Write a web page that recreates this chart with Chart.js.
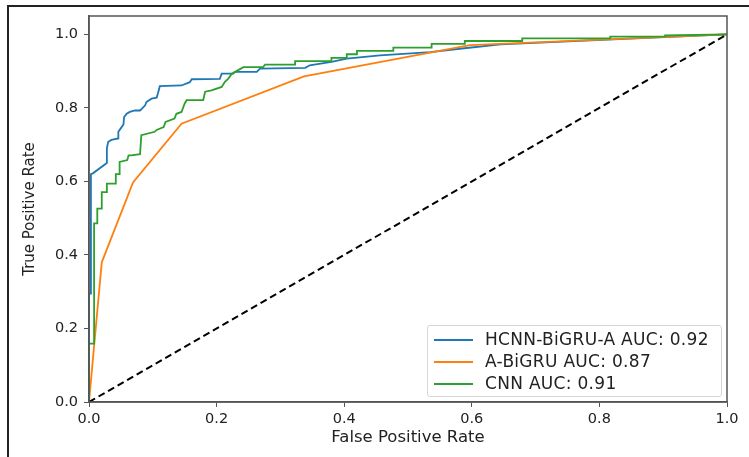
<!DOCTYPE html>
<html lang="en">
<head>
    <meta charset="UTF-8">
    <title>ROC curves</title>
    <style>
        body {
            margin: 0;
            background: #fff;
            font-family: "DejaVu Sans", sans-serif;
        }
        #wrap {
            position: relative;
            width: 749px;
            height: 457px;
            overflow: hidden;
        }
        /* frame of the screenshot */
        #frame {
            position: absolute;
            left: 7px;
            top: 5px;
            width: 760px;
            height: 470px;
            border-top: 2px solid #222;
            border-left: 2px solid #222;
        }
        #rocChart {
            position: absolute;
            left: 0;
            top: 0;
        }
        #legend {
            position: absolute;
            left: 427px;
            top: 325px;
            width: 293px;
            height: 70px;
            border: 1px solid #d6d6d6;
            border-radius: 3px;
            background: rgba(255, 255, 255, 0.8);
            font-size: 17px;
            letter-spacing: 0.3px;
            color: #222;
        }
        .item {
            position: absolute;
            left: 6px;
            height: 20px;
            line-height: 20px;
            white-space: nowrap;
        }
        .swatch {
            display: inline-block;
            width: 39px;
            height: 0;
            border-top: 2px solid;
            vertical-align: middle;
            margin-right: 12px;
        }
    </style>
</head>
<body>
<div id="wrap">
    <div id="frame"></div>
    <canvas id="rocChart" width="749" height="457"></canvas>
    <div id="legend"></div>
</div>

<script src="https://cdn.jsdelivr.net/npm/chart.js"></script>
<script>
    // curve names and colours
    const names = ['HCNN-BiGRU-A AUC: 0.92', 'A-BiGRU AUC: 0.87', 'CNN AUC: 0.91'];
    const colors = ['#1f77b4', '#ff7f0e', '#2ca02c'];

    // HCNN-BiGRU-A
    const hcnnFpr = [0, 0, 0.003, 0.003, 0.006, 0.028, 0.028, 0.030, 0.035, 0.046, 0.046, 0.050, 0.054, 0.055,
        0.059, 0.064, 0.072, 0.080, 0.083, 0.088, 0.090, 0.098, 0.106, 0.108, 0.111, 0.145, 0.158, 0.161,
        0.205, 0.208, 0.226, 0.229, 0.263, 0.268, 0.339, 0.346, 0.380, 0.404, 0.456, 0.535, 0.592, 0.645, 1.0];
    const hcnnTpr = [0, 0.295, 0.295, 0.620, 0.622, 0.650, 0.690, 0.707, 0.713, 0.717, 0.735, 0.745, 0.755, 0.775,
        0.784, 0.789, 0.793, 0.793, 0.798, 0.807, 0.816, 0.825, 0.828, 0.839, 0.859, 0.861, 0.870, 0.878,
        0.879, 0.893, 0.893, 0.898, 0.898, 0.907, 0.909, 0.916, 0.925, 0.934, 0.943, 0.952, 0.963, 0.973, 1.0];

    // A-BiGRU
    const bigruFpr = [0, 0.020, 0.069, 0.145, 0.337, 0.597, 1.0];
    const bigruTpr = [0, 0.380, 0.597, 0.757, 0.886, 0.971, 1.0];

    // CNN
    const cnnFpr = [0, 0, 0.008, 0.008, 0.013, 0.013, 0.020, 0.020, 0.028, 0.028,
        0.042, 0.042, 0.048, 0.048, 0.060, 0.062, 0.066, 0.080, 0.082, 0.103,
        0.106, 0.117, 0.120, 0.134, 0.137, 0.145, 0.150, 0.153, 0.179, 0.182,
        0.192, 0.208, 0.213, 0.218, 0.224, 0.229, 0.242, 0.273, 0.276, 0.323,
        0.323, 0.380, 0.380, 0.404, 0.404, 0.420, 0.420, 0.477, 0.477, 0.537,
        0.537, 0.589, 0.589, 0.679, 0.679, 0.817, 0.817, 0.903, 0.903, 1.0];
    const cnnTpr = [0, 0.159, 0.159, 0.486, 0.486, 0.526, 0.526, 0.571, 0.571, 0.594,
        0.594, 0.620, 0.620, 0.653, 0.658, 0.671, 0.671, 0.674, 0.726, 0.735,
        0.740, 0.748, 0.762, 0.771, 0.784, 0.789, 0.812, 0.821, 0.821, 0.844,
        0.848, 0.857, 0.871, 0.879, 0.893, 0.898, 0.911, 0.911, 0.918, 0.918,
        0.927, 0.927, 0.936, 0.936, 0.946, 0.946, 0.955, 0.955, 0.964, 0.964,
        0.974, 0.974, 0.982, 0.982, 0.989, 0.989, 0.994, 0.994, 0.997, 1.0];

    // chance line
    const chanceFpr = [0, 1];
    const chanceTpr = [0, 1];

    const tickValues = [0, 0.2, 0.4, 0.6, 0.8, 1.0];

    function pts(xs, ys) {
        return xs.map((x, i) => ({x: x, y: ys[i]}));
    }

    // full box around the plot (matplotlib spines)
    const spines = {
        id: 'spines',
        afterDatasetsDraw(chart) {
            const a = chart.chartArea;
            const c = chart.ctx;
            c.save();
            c.strokeStyle = '#555';
            c.lineWidth = 1.5;
            c.strokeRect(a.left, a.top, a.right - a.left, a.bottom - a.top);
            c.restore();
        }
    };

    const curves = [pts(hcnnFpr, hcnnTpr), pts(bigruFpr, bigruTpr), pts(cnnFpr, cnnTpr)];
    const datasets = curves.map((d, i) => ({
        label: names[i],
        data: d,
        borderColor: colors[i],
        borderWidth: 1.8,
        pointRadius: 0,
        tension: 0,
        fill: false,
        order: 4 - i
    }));
    datasets.push({
        label: 'chance',
        data: pts(chanceFpr, chanceTpr),
        borderColor: '#000',
        borderWidth: 2,
        borderDash: [7, 4],
        pointRadius: 0,
        fill: false,
        order: 0
    });

    Chart.defaults.font.family = '"DejaVu Sans", sans-serif';
    Chart.defaults.color = '#222';

    new Chart(document.getElementById('rocChart'), {
        type: 'line',
        data: {datasets: datasets},
        plugins: [spines],
        options: {
            responsive: false,
            animation: false,
            layout: {padding: {top: 16, right: 22, left: 21, bottom: 9}},
            plugins: {
                legend: {display: false},
                tooltip: {enabled: false}
            },
            scales: {
                x: {
                    type: 'linear',
                    min: 0,
                    max: 1,
                    afterBuildTicks(scale) {
                        scale.ticks = tickValues.map(v => ({value: v}));
                    },
                    afterFit(scale) { scale.height = 46; },
                    ticks: {
                        font: {size: 14.5},
                        padding: 4,
                        callback: v => v.toFixed(1)
                    },
                    grid: {drawOnChartArea: false, drawTicks: true, tickLength: 5, color: '#555'},
                    border: {display: true, color: '#555', width: 1.5},
                    title: {display: true, text: 'False Positive Rate', font: {size: 16.5}, padding: 0}
                },
                y: {
                    type: 'linear',
                    min: 0,
                    max: 1.05,
                    afterBuildTicks(scale) {
                        scale.ticks = tickValues.map(v => ({value: v}));
                    },
                    afterFit(scale) { scale.width = 68; },
                    ticks: {
                        font: {size: 14.5},
                        padding: 6,
                        callback: v => v.toFixed(1)
                    },
                    grid: {drawOnChartArea: false, drawTicks: true, tickLength: 5, color: '#555'},
                    border: {display: true, color: '#555', width: 1.5},
                    title: {display: true, text: 'True Positive Rate', font: {size: 15}, padding: 0}
                }
            }
        }
    });

    // legend box in the lower right of the plot
    const legend = document.getElementById('legend');
    names.forEach((n, i) => {
        const row = document.createElement('div');
        row.className = 'item';
        row.style.top = (3 + i * 22) + 'px';
        row.innerHTML = '<span class="swatch" style="border-color:' + colors[i] + '"></span>' + n;
        legend.appendChild(row);
    });
</script>
</body>
</html>
